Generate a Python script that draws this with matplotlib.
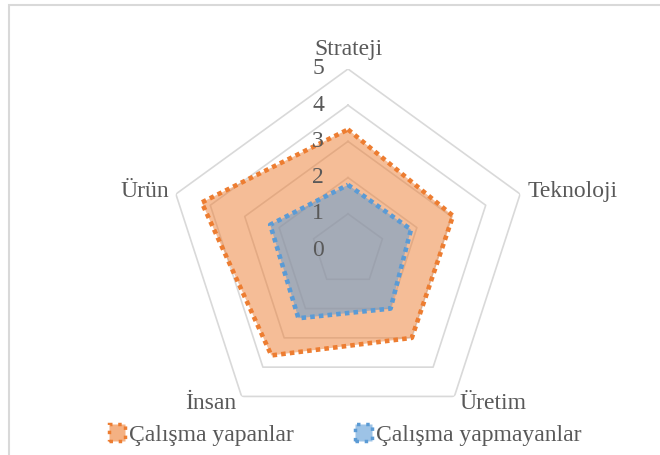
import numpy as np
import matplotlib.pyplot as plt
from matplotlib.patches import Patch, Rectangle
from matplotlib.transforms import offset_copy

# data
categories = ['Strateji', 'Teknoloji', 'Üretim', 'İnsan', 'Ürün']
yapanlar = [3.33, 3.05, 3.0, 3.6, 4.25]      # Çalışma yapanlar
yapmayanlar = [1.8, 1.83, 2.0, 2.33, 2.26]   # Çalışma yapmayanlar
levels = [0, 1, 2, 3, 4, 5]

plt.rcParams['font.family'] = ['Liberation Serif', 'DejaVu Serif']
text_color = '#595959'
grid_color = '#d9d9d9'
orange = '#ED7D31'
blue = '#5B9BD5'
fs = 17

fig = plt.figure(figsize=(6.6, 4.55), dpi=100)

# chart area border (only top and left visible in the crop)
fig.patches.append(Rectangle((9/660, -0.5), 2, 0.5 + 450/455, transform=fig.transFigure,
                             fill=False, edgecolor=grid_color, lw=1.5))

ax = fig.add_axes([167/660, 24/455, 362/660, 362/455], projection='polar')
ax.set_theta_offset(np.pi / 2)
ax.set_theta_direction(-1)
ax.set_ylim(0, 5)
ax.axis('off')

angles = np.arange(len(categories)) * 2 * np.pi / len(categories)
closed = np.append(angles, angles[0])

# pentagon gridlines
for lv in levels[1:]:
    ax.plot(closed, [lv] * len(closed), color=grid_color, lw=1.2, zorder=1)

# series
for vals, col, a in [(yapanlar, orange, 0.5), (yapmayanlar, blue, 0.52)]:
    v = np.append(vals, vals[0])
    ax.fill(closed, v, color=col, alpha=a, lw=0, zorder=2)
    ax.plot(closed, v, color=col, lw=3.3, dashes=(1, 0.9), dash_capstyle='butt', zorder=3)

# value labels
tick_tr = offset_copy(ax.transData, fig=fig, x=-30, y=0, units='dots')
for lv in levels:
    ax.text(0, lv, str(lv), transform=tick_tr, ha='center', va='center',
            fontsize=fs, color=text_color, zorder=4)

# category labels
label_pos = [(5.55, 'center'), (5.22, 'left'), (5.25, 'left'), (5.25, 'right'), (5.2, 'right')]
for ang, name, (r, ha) in zip(angles, categories, label_pos):
    ax.text(ang, r, name, ha=ha, va='center', fontsize=fs, color=text_color)

handles = [Patch(facecolor='#F4B183', edgecolor=orange, linestyle=':', lw=2.5, label='Çalışma yapanlar'),
           Patch(facecolor='#9DC3E6', edgecolor=blue, linestyle=':', lw=2.5, label='Çalışma yapmayanlar')]
fig.legend(handles=handles, loc='center', bbox_to_anchor=(0.523, 0.044), ncol=2, frameon=False,
           fontsize=fs, labelcolor=text_color, handlelength=0.68, handleheight=0.68,
           handletextpad=0.2, columnspacing=2.6, borderpad=0)

fig.savefig('out.png', dpi=100)
